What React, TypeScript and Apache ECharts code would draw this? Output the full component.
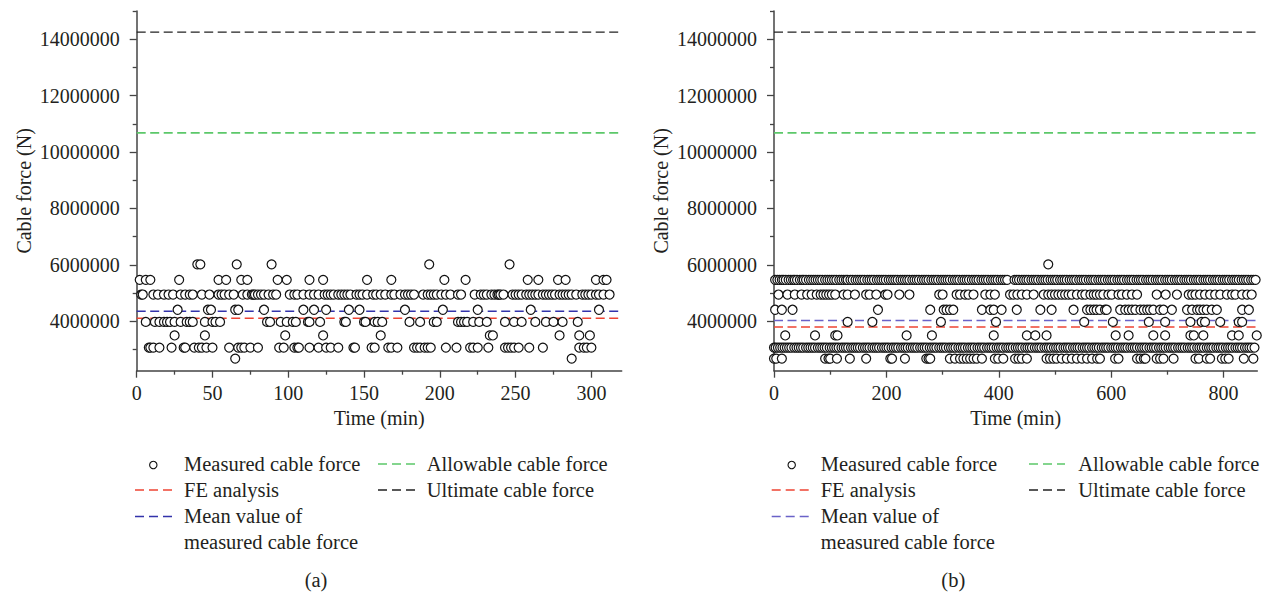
import React, { useEffect, useRef } from "react";
import * as echarts from "echarts";

// ---------- axis ticks ----------
const Y_MIN = 2250000;
const Y_MAX = 15000000;
const yTicks = [4000000, 6000000, 8000000, 10000000, 12000000, 14000000];
const yMinorTicks = [3000000, 5000000, 7000000, 9000000, 11000000, 13000000, 15000000];

const X_MAX_A = 320;
const xTicksA = [0, 50, 100, 150, 200, 250, 300];
const xMinorA = [25, 75, 125, 175, 225, 275];

const X_MAX_B = 860;
const xTicksB = [0, 200, 400, 600, 800];
const xMinorB = [100, 300, 500, 700];

// ---------- reference lines (N) ----------
const feA = 4110000;
const meanA = 4360000;
const feB = 3800000;
const meanB = 4030000;
const allowable = 10680000;
const ultimate = 14250000;

// ---------- measured force levels (N) ----------
const levels = [6020000, 5470000, 4950000, 4410000, 3980000, 3500000, 3070000, 2680000];

// ---------- (a) measured points: times (min) for each level ----------
const a6020 = [40, 42, 66, 89, 193, 246];
const a5470 = [2, 6, 9, 28, 54, 59, 69, 73, 93, 99, 114, 123, 152, 168, 203, 217, 258, 265, 278, 283, 303, 308, 310];
const a4950 = [3, 4, 11, 14, 18, 21, 24, 29, 32, 35, 37, 43, 48, 54, 56, 58, 61, 64, 70, 73, 76, 77, 78, 80, 82, 84, 87, 90, 92, 101, 104, 106,
  110, 114, 117, 120, 124, 126, 128, 130, 133, 135, 137, 139, 141, 145, 147, 149, 152, 156, 158, 161, 164, 168, 170, 174, 177, 179, 181, 183, 189, 192, 194, 196, 198, 201, 204, 207, 212, 214,
  223, 227, 229, 231, 234, 236, 238, 239, 240, 242, 248, 250, 252, 254, 257, 259, 261, 263, 265, 268, 270, 272, 274, 276, 279, 281, 283, 285, 287, 290, 294, 296, 298, 300, 303, 305, 308, 312];
const a4410 = [27, 47, 49, 65, 67, 84, 110, 117, 125, 140, 147, 177, 202, 225, 260, 305];
const a3980 = [6, 12, 15, 18, 20, 22, 25, 29, 33, 35, 37, 45, 50, 52, 55, 86, 88, 95, 99, 103, 105, 113, 114, 121, 137, 138, 150, 151, 157, 159, 162, 180, 187, 196, 198, 212, 214, 216, 218, 222, 226, 231, 243, 249, 254, 263, 270, 275, 281, 291];
const a3500 = [25, 45, 98, 123, 161, 233, 235, 279, 292, 299];
const a3070 = [8, 9, 11, 15, 23, 31, 32, 38, 41, 43, 46, 50, 61, 67, 69, 71, 75, 80, 94, 97, 104, 106, 107, 114, 120, 125, 128, 133, 143, 144, 155, 157, 166, 168, 172, 183, 185, 187, 190, 192, 194, 204, 211, 220, 222, 225, 232, 243, 245, 247, 249, 252, 259, 268, 292, 295, 297, 300];
const a2680 = [65, 287];

// ---------- (b) measured points: times (min) for each level ----------
const b6020 = [488];
const b5470 = [2, 6, 10, 14, 17, 21, 26, 30, 34, 37, 41, 46, 50, 53, 57, 62, 66, 70, 74, 78, 82, 86, 91, 95, 99, 103, 107, 111, 116, 120, 124, 128, 131, 136, 140, 145, 149, 153, 157, 161, 166, 170, 174, 178, 183, 187, 191, 195, 199, 204, 208, 212, 216, 220, 225, 229, 233, 237, 241, 246, 250, 254, 258, 263, 267, 271, 275, 280, 284, 288, 292, 297, 301, 305, 309, 313, 318, 322, 326, 330, 335, 339, 343, 347, 352, 356, 360, 364, 369, 373, 377, 381, 386, 390, 394, 398, 403, 407, 411, 415, 428, 432, 436, 441, 445, 449, 453, 458, 462, 466, 470, 475, 479, 483, 487, 492, 496, 500, 504, 509, 513, 517, 521, 526, 530, 534, 538, 543, 547, 551, 555, 560, 564, 568, 572, 577, 581, 585, 589, 594, 598, 602, 606, 611, 615, 619, 623, 628, 632, 636, 640, 645, 649, 653, 657, 662, 666, 670, 674, 679, 683, 687, 691, 696, 700, 704, 708, 713, 717, 721, 725, 730, 734, 738, 742, 747, 751, 755, 759, 764, 768, 772, 776, 781, 785, 789, 793, 798, 802, 806, 810, 815, 819, 823, 827, 832, 836, 840, 844, 849, 853, 857];
const b4950 = [8, 24, 37, 49, 59, 67, 76, 83, 88, 93, 98, 103, 109, 124, 131, 144, 164, 170, 182, 198, 202, 223, 241, 294, 300, 325, 331, 340, 346, 355, 376, 385, 393, 420, 426, 433, 441, 450, 462, 480, 488, 494, 500, 506, 512, 518, 524, 530, 539, 548, 554, 563, 569, 574, 580, 586, 595, 601, 613, 619, 628, 637, 646, 681, 697, 717, 738, 744, 750, 758, 767, 776, 785, 794, 806, 815, 821, 833, 842, 850];
const b4450 = [2, 14, 33, 185, 278, 302, 307, 313, 319, 370, 385, 391, 405, 432, 474, 494, 533, 557, 563, 569, 574, 580, 589, 592, 616, 625, 631, 637, 643, 652, 658, 664, 669, 675, 687, 693, 708, 735, 744, 753, 758, 764, 770, 779, 788, 833, 845];
const b3980 = [131, 175, 297, 395, 552, 603, 667, 696, 741, 761, 767, 794, 827, 833];
const b3500 = [20, 73, 109, 113, 236, 281, 391, 450, 465, 485, 608, 631, 675, 696, 741, 747, 764, 815, 827, 859];
const b3070 = [0, 3, 7, 11, 15, 19, 23, 27, 31, 36, 40, 44, 48, 52, 57, 61, 65, 69, 73, 78, 82, 86, 90, 94, 99, 103, 107, 111, 115, 120, 124, 128, 132, 137, 141, 145, 149, 153, 158, 162, 166, 170, 175, 179, 183, 187, 192, 196, 200, 204, 209, 213, 217, 221, 226, 230, 234, 238, 243, 247, 251, 255, 260, 264, 268, 272, 277, 281, 285, 289, 294, 298, 302, 306, 311, 315, 319, 323, 328, 332, 336, 340, 345, 349, 353, 357, 362, 366, 370, 374, 379, 383, 387, 391, 396, 400, 404, 408, 413, 417, 421, 425, 430, 434, 438, 442, 447, 451, 455, 459, 464, 468, 472, 476, 481, 485, 489, 493, 498, 502, 506, 510, 515, 519, 523, 527, 532, 536, 540, 544, 549, 553, 557, 561, 566, 570, 574, 578, 583, 587, 591, 595, 600, 604, 608, 612, 617, 621, 625, 629, 634, 638, 642, 646, 651, 655, 659, 663, 668, 672, 676, 680, 685, 689, 693, 697, 702, 706, 710, 714, 719, 723, 727, 731, 736, 740, 744, 748, 753, 757, 761, 765, 770, 774, 778, 782, 787, 791, 795, 799, 804, 808, 812, 816, 821, 825, 829, 833, 838, 842, 846, 850, 855];
const b2680 = [0, 4, 14, 91, 97, 100, 112, 135, 164, 207, 210, 233, 271, 275, 278, 313, 322, 331, 337, 343, 349, 355, 361, 370, 393, 399, 408, 429, 435, 441, 450, 485, 491, 497, 503, 512, 521, 530, 539, 548, 557, 566, 575, 580, 607, 613, 646, 652, 658, 661, 681, 687, 693, 711, 750, 756, 770, 776, 797, 803, 809, 836, 853];

const timesA = [a6020, a5470, a4950, a4410, a3980, a3500, a3070, a2680];
const timesB = [b6020, b5470, b4950, b4450, b3980, b3500, b3070, b2680];

const FONT = '"Liberation Serif", "Times New Roman", serif';
const TXT = "#231f20";
const AX = "#444";
const RED = "#ee4433";
const BLUE_A = "#3333aa";
const BLUE_B = "#6a62c8";
const GREEN = "#5cc86a";
const BLACK = "#222";

function buildPoints(times: number[][]) {
  const pts: number[][] = [];
  times.forEach((arr, i) => arr.forEach((t) => pts.push([t, levels[i]])));
  return pts;
}

function mainX(gridIndex: number, max: number, ticks: number[]) {
  return {
    type: "value",
    gridIndex,
    position: "bottom",
    min: 0,
    max,
    name: "Time (min)",
    nameLocation: "middle",
    nameGap: 37,
    nameTextStyle: { fontFamily: FONT, fontSize: 20, color: TXT },
    axisLine: { show: true, onZero: false, lineStyle: { color: AX, width: 1.5 } },
    axisTick: { show: true, inside: false, length: 7, customValues: ticks, lineStyle: { color: AX, width: 1.3 } },
    axisLabel: { customValues: ticks, fontFamily: FONT, fontSize: 20, color: TXT, margin: 12, formatter: (v: number) => String(v) },
    splitLine: { show: false },
  };
}

function minorX(gridIndex: number, max: number, ticks: number[]) {
  return {
    type: "value",
    gridIndex,
    position: "bottom",
    offset: 0,
    min: 0,
    max,
    axisLine: { show: true, onZero: false, lineStyle: { color: "rgba(0,0,0,0)" } },
    axisTick: { show: true, inside: false, length: 4, customValues: ticks, lineStyle: { color: AX, width: 1.3 } },
    axisLabel: { show: false },
    splitLine: { show: false },
  };
}

function mainY(gridIndex: number) {
  return {
    type: "value",
    gridIndex,
    position: "left",
    min: Y_MIN,
    max: Y_MAX,
    name: "Cable force (N)",
    nameLocation: "middle",
    nameGap: 103,
    nameTextStyle: { fontFamily: FONT, fontSize: 20, color: TXT },
    axisLine: { show: true, onZero: false, lineStyle: { color: AX, width: 1.5 } },
    axisTick: { show: true, inside: false, length: 7, customValues: yTicks, lineStyle: { color: AX, width: 1.3 } },
    axisLabel: { customValues: yTicks, fontFamily: FONT, fontSize: 20, color: TXT, margin: 17, formatter: (v: number) => String(v) },
    splitLine: { show: false },
  };
}

function minorY(gridIndex: number) {
  return {
    type: "value",
    gridIndex,
    position: "left",
    offset: 0,
    min: Y_MIN,
    max: Y_MAX,
    axisLine: { show: true, onZero: false, lineStyle: { color: "rgba(0,0,0,0)" } },
    axisTick: { show: true, inside: false, length: 4, customValues: yMinorTicks, lineStyle: { color: AX, width: 1.3 } },
    axisLabel: { show: false },
    splitLine: { show: false },
  };
}

function refLine(name: string, xi: number, max: number, value: number, color: string, width: number) {
  return {
    name,
    type: "line",
    xAxisIndex: xi,
    yAxisIndex: xi,
    data: [[0, value], [max, value]],
    symbol: "none",
    silent: true,
    z: 2,
    lineStyle: { color, width, type: [9, 4.5] },
  };
}

function scatter(xi: number, times: number[][]) {
  return {
    name: "Measured cable force",
    type: "scatter",
    xAxisIndex: xi,
    yAxisIndex: xi,
    data: buildPoints(times),
    symbol: "circle",
    symbolSize: 9,
    z: 3,
    itemStyle: { color: "#ffffff", borderColor: "#111", borderWidth: 1.2, opacity: 1 },
  };
}

function legendGraphics(circleX: number, textX1: number, lineX1: number, lineX2: number, gX1: number, gX2: number, textX2: number, capX: number, cap: string, blue: string) {
  const txt = (text: string, x: number, y: number, extra: any = {}) => ({
    type: "text",
    x,
    y,
    style: { text, fill: TXT, fontFamily: FONT, fontSize: 20.5, textAlign: "left", textVerticalAlign: "middle", ...extra },
  });
  const dash = (x1: number, x2: number, y: number, color: string) => ({
    type: "line",
    shape: { x1, y1: y, x2, y2: y },
    style: { stroke: color, lineWidth: 1.5, lineDash: [9, 5] },
  });
  return [
    { type: "circle", shape: { cx: circleX, cy: 465, r: 3.7 }, style: { fill: "#fff", stroke: "#111", lineWidth: 1.1 } },
    txt("Measured cable force", textX1, 464),
    dash(lineX1, lineX2, 490, RED),
    txt("FE analysis", textX1, 490),
    dash(lineX1, lineX2, 516.5, blue),
    {
      type: "text",
      x: textX1,
      y: 503,
      style: { text: "Mean value of\nmeasured cable force", fill: TXT, fontFamily: FONT, fontSize: 20.5, lineHeight: 26, textAlign: "left", textVerticalAlign: "top" },
    },
    dash(gX1, gX2, 464, GREEN),
    txt("Allowable cable force", textX2, 464),
    dash(gX1, gX2, 490, BLACK),
    txt("Ultimate cable force", textX2, 490),
    txt(cap, capX, 580, { textAlign: "center" }),
  ];
}

export default function App() {
  const ref = useRef<HTMLDivElement>(null);

  useEffect(() => {
    if (!ref.current) return;
    const chart = echarts.init(ref.current, undefined, { renderer: "svg" });
    const option: any = {
      animation: false,
      backgroundColor: "#ffffff",
      grid: [
        { left: 136.7, top: 11, width: 485, height: 359.7, containLabel: false },
        { left: 774, top: 11, width: 483.3, height: 359.7, containLabel: false },
      ],
      xAxis: [mainX(0, X_MAX_A, xTicksA), minorX(0, X_MAX_A, xMinorA), mainX(1, X_MAX_B, xTicksB), minorX(1, X_MAX_B, xMinorB)],
      yAxis: [mainY(0), minorY(0), mainY(1), minorY(1)],
      series: [
        refLine("Ultimate cable force", 0, X_MAX_A, ultimate, BLACK, 1.3),
        refLine("Allowable cable force", 0, X_MAX_A, allowable, GREEN, 1.8),
        refLine("FE analysis", 0, X_MAX_A, feA, RED, 1.5),
        refLine("Mean value of measured cable force", 0, X_MAX_A, meanA, BLUE_A, 1.5),
        scatter(0, timesA),
        refLine("Ultimate cable force", 2, X_MAX_B, ultimate, BLACK, 1.3),
        refLine("Allowable cable force", 2, X_MAX_B, allowable, GREEN, 1.8),
        refLine("FE analysis", 2, X_MAX_B, feB, RED, 1.5),
        refLine("Mean value of measured cable force", 2, X_MAX_B, meanB, BLUE_B, 1.5),
        scatter(2, timesB),
      ],
      graphic: [
        ...legendGraphics(153.3, 184, 135, 172.7, 378, 415, 426.7, 316, "(a)", BLUE_A),
        ...legendGraphics(791.7, 820.7, 771.7, 809.3, 1029, 1065, 1078.3, 953.3, "(b)", BLUE_B),
      ],
    };
    chart.setOption(option);
    return () => chart.dispose();
  }, []);

  return (
    <div
      ref={ref}
      style={{ position: "fixed", left: 0, top: 0, width: 1265, height: 593, background: "#fff" }}
    />
  );
}
